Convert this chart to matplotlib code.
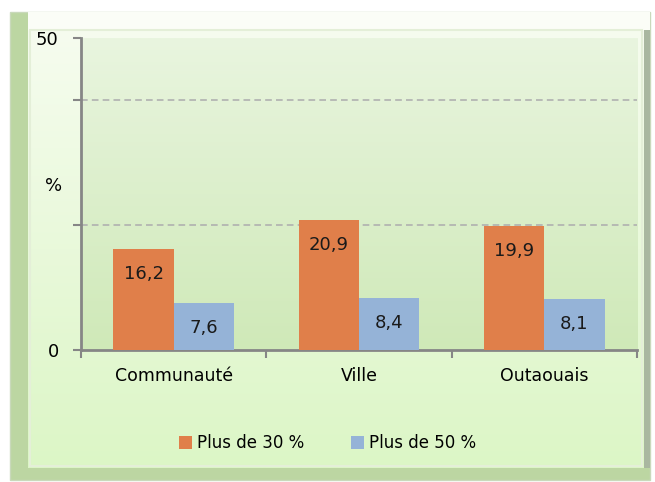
import numpy as np
import matplotlib
matplotlib.use('Agg')
import matplotlib.pyplot as plt
from matplotlib.patches import Rectangle

categories = ['Communauté', 'Ville', 'Outaouais']
plus30 = [16.2, 20.9, 19.9]
plus50 = [7.6, 8.4, 8.1]
labels = ['Plus de 30 %', 'Plus de 50 %']

W, H = 655, 482
fig = plt.figure(figsize=(W / 100, H / 100), dpi=100)
fig.patch.set_facecolor('white')

# background frame (bevelled box in pixel coords)
bg = fig.add_axes([0, 0, 1, 1])
bg.axis('off')
bg.add_patch(Rectangle((10, 12), 640, 468, facecolor='#bcd6a2', edgecolor='#c9d9bb', lw=1, zorder=1))
bg.add_patch(Rectangle((28, 12), 622, 18, facecolor='#fbfdf7', edgecolor='none', zorder=1))
bg.add_patch(Rectangle((644, 30), 6, 438, facecolor='#a9b7a0', edgecolor='none', zorder=1))
grad = np.linspace(0, 1, 256).reshape(-1, 1)
cmap_bg = matplotlib.colors.LinearSegmentedColormap.from_list('bg', ['#f6fcef', '#dcf6c6'])
bg.imshow(grad, cmap=cmap_bg, extent=[28, 644, 468, 30], aspect='auto', zorder=2)
bg.add_patch(Rectangle((30, 30), 612, 436, facecolor='none', edgecolor='#e4efd8', lw=1.5, zorder=3))
bg.set_xlim(0, W)
bg.set_ylim(H, 0)

ax = fig.add_axes([81 / W, (H - 350) / H, (637 - 81) / W, (350 - 38) / H])
ax.set_facecolor('none')
cmap_pl = matplotlib.colors.LinearSegmentedColormap.from_list('pl', ['#e9f5df', '#cfe9b8'])
ax.imshow(grad, cmap=cmap_pl, extent=[0, 1, 0, 1], transform=ax.transAxes,
          aspect='auto', zorder=0)

x = np.arange(len(categories))
w = 0.325
b1 = ax.bar(x - w / 2, plus30, w, color='#e07f4a', label=labels[0], zorder=3)
b2 = ax.bar(x + w / 2, plus50, w, color='#95b3d7', label=labels[1], zorder=3)

for bars, vals in ((b1, plus30), (b2, plus50)):
    for r, v in zip(bars, vals):
        ax.annotate(f'{v:.1f}'.replace('.', ','), (r.get_x() + r.get_width() / 2, v),
                    xytext=(0, -25), textcoords='offset pixels', ha='center', va='center',
                    fontsize=13, color='#1a1a1a', zorder=4)

ax.set_xlim(-0.5, 2.5)
ax.set_ylim(0, 50)
for g in (20, 40):
    ax.axhline(g, color='#b0b0b0', lw=1.2, ls=(0, (4, 2.5)), zorder=1)

ax.set_yticks([0, 20, 40, 50])
ax.set_yticklabels(['0', '', '', '50'], fontsize=13)
ax.text(-0.034, 0.525, '%', transform=ax.transAxes, fontsize=13, ha='right', va='center')
ax.set_xticks(x)
ax.set_xticklabels(categories, fontsize=12.5)
ax.set_xticks([-0.5, 0.5, 1.5, 2.5], minor=True)
ax.tick_params(axis='x', which='major', length=0, pad=12)
ax.tick_params(axis='x', which='minor', length=6, width=1.5, color='#868686')
ax.tick_params(axis='y', length=6, width=1.5, color='#868686', pad=10)

for s in ('top', 'right'):
    ax.spines[s].set_visible(False)
for s in ('left', 'bottom'):
    ax.spines[s].set_color('#868686')
    ax.spines[s].set_linewidth(2)

fig.legend(handles=[b1, b2], labels=labels, loc='center', bbox_to_anchor=(0.5, (H - 443) / H),
           ncol=2, frameon=False, fontsize=12, handlelength=0.8, handleheight=0.8,
           handletextpad=0.3, columnspacing=2.8)

fig.savefig('out.png', dpi=100)
